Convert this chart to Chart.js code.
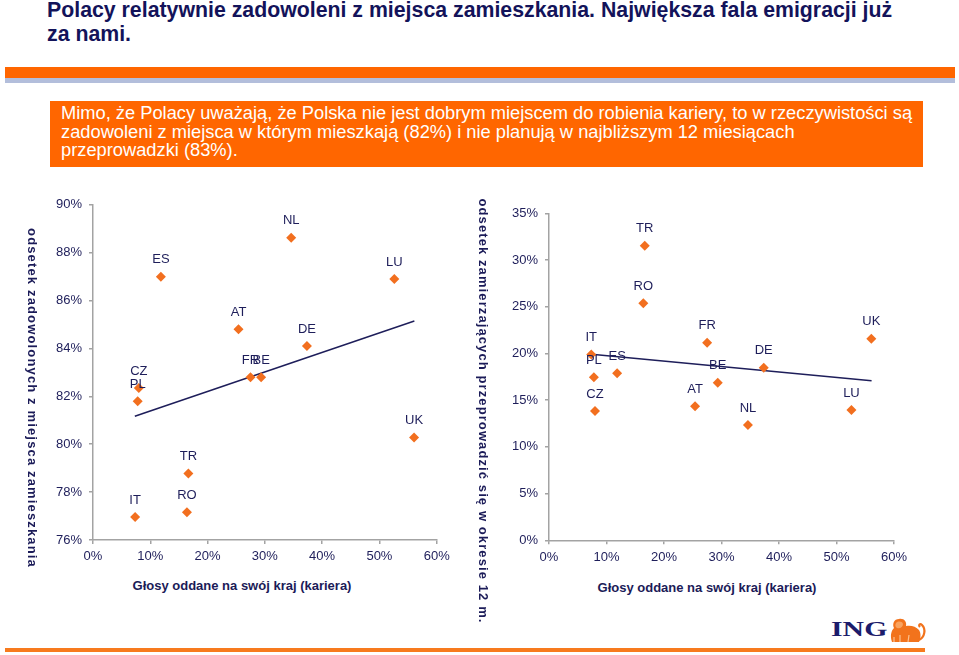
<!DOCTYPE html>
<html lang="pl">
<head>
<meta charset="utf-8">
<script src="https://cdn.jsdelivr.net/npm/chart.js@4.4.1/dist/chart.umd.min.js"></script>
<style>
  body { margin: 0; width: 959px; height: 655px; background: #fff; overflow: hidden; position: relative; font-family: "Liberation Sans", Arial, sans-serif; }
  .abs { position: absolute; }
  #title { left: 47px; top: -2px; font-weight: bold; font-size: 21.3px; line-height: 24px; color: #13135a; white-space: nowrap; }
  #bar { left: 5px; top: 67px; width: 950px; height: 11px; background: #ff6600; }
  #bar2 { left: 5px; top: 78px; width: 950px; height: 5px; background: #b3bedb; }
  #box { left: 50px; top: 101px; width: 873px; height: 66px; background: #ff6600; color: #fff; font-size: 18.3px; line-height: 18.5px; box-sizing: border-box; padding: 3px 0 0 11px; white-space: nowrap; }
  .xt { font-weight: bold; font-size: 13px; color: #1b1b58; transform: translate(-50%, -50%); white-space: nowrap; }
  .yt { font-weight: bold; font-size: 13px; color: #1b1b58; writing-mode: vertical-rl; transform: translate(-50%, -50%); white-space: nowrap; }
  #line { left: 5px; top: 648px; width: 920px; height: 4px; background: #f77a1e; }
  #ing { left: 831px; top: 617px; font-family: "Liberation Serif", "DejaVu Serif", serif; font-weight: bold; font-size: 21px; line-height: 24px; color: #1c1c6b; transform: scaleX(1.42); transform-origin: left center; }
</style>
</head>
<body>
<div id="title" class="abs">Polacy relatywnie zadowoleni z miejsca zamieszkania. Największa fala emigracji już<br>za nami.</div>
<div id="bar" class="abs"></div>
<div id="bar2" class="abs"></div>
<div id="box" class="abs">Mimo, że Polacy uważają, że Polska nie jest dobrym miejscem do robienia kariery, to w rzeczywistości są<br>zadowoleni z miejsca w którym mieszkają (82%) i nie planują w najbliższym 12 miesiącach<br>przeprowadzki (83%).</div>

<canvas id="plotLeft" class="abs" width="460" height="380" style="left:0;top:190px"></canvas>
<canvas id="plotRight" class="abs" width="489" height="380" style="left:470px;top:190px"></canvas>

<div class="abs yt" style="left:32px;top:398px;letter-spacing:1.15px">odsetek zadowolonych z miejsca zamieszkania</div>
<div class="abs yt" style="left:483px;top:411px;letter-spacing:1.1px">odsetek zamierzających przeprowadzić się w okresie 12 m.</div>
<div class="abs xt" style="left:242px;top:585px">Głosy oddane na swój kraj (kariera)</div>
<div class="abs xt" style="left:707px;top:587px">Głosy oddane na swój kraj (kariera)</div>

<div id="line" class="abs"></div>
<div id="ing" class="abs">ING</div>
<svg class="abs" style="left:888px;top:616px" width="40" height="30" viewBox="0 0 40 30">
  <path d="M4 26 C2 20 3 15 6 12 C4 8 6 3 11 3 C16 2 19 6 18 10 C22 9 28 10 31 14 C33 17 33 22 31 26 Z" fill="#f2731c"/>
  <path d="M8 7 C10 5 14 5 15 8 C15 11 12 13 9 12 C7 11 7 9 8 7 Z" fill="#f9a35f"/>
  <path d="M6 26 L6 21 M12 26 L12 19 M20 26 L21 19" stroke="#fbc08f" stroke-width="1.2"/>
  <path d="M31 24 C37 21 38 13 34 9 C32 7 30 9 32 11" stroke="#f2731c" stroke-width="2.2" fill="none"/>
</svg>

<script>
const countries = ['IT', 'PL', 'CZ', 'ES', 'RO', 'TR', 'AT', 'FR', 'BE', 'NL', 'DE', 'LU', 'UK'];
// share of votes for own country as a place for a career (%)
const careerVotes = [7.35, 7.8, 8.0, 11.85, 16.4, 16.65, 25.4, 27.5, 29.35, 34.6, 37.35, 52.6, 56.05];
// satisfied with place of living (%)
const satisfied = [76.96, 81.8, 82.35, 87.0, 77.16, 78.78, 84.8, 82.8, 82.8, 88.62, 84.1, 86.9, 80.28];
// planning to move within 12 months (%)
const planMove = [19.9, 17.45, 13.84, 17.87, 25.37, 31.53, 14.34, 21.15, 16.87, 12.34, 18.48, 13.95, 21.58];

const trendLeftX = [7.3, 56.1];
const trendLeftY = [81.17, 85.15];
const trendRightX = [7.4, 56.1];
const trendRightY = [19.91, 17.08];

const xTicks = [0, 10, 20, 30, 40, 50, 60];

const navy = '#1e1e5a';
const orange = '#f26f1f';
const axisGrey = '#a3a3a3';

const pointLabels = {
  id: 'pointLabels',
  afterDatasetsDraw(chart) {
    const ctx = chart.ctx;
    const meta = chart.getDatasetMeta(0);
    ctx.save();
    ctx.font = '13px "Liberation Sans", Arial, sans-serif';
    ctx.fillStyle = navy;
    ctx.textAlign = 'center';
    ctx.textBaseline = 'middle';
    meta.data.forEach((pt, i) => {
      ctx.fillText(countries[i], pt.x, pt.y - 17);
    });
    ctx.restore();
  }
};

function pairs(xs, ys) {
  return xs.map((x, i) => ({ x: x, y: ys[i] }));
}

function buildConfig(yValues, trendX, trendY, yMin, yMax, yStep, yWidth, xHeight, padding) {
  return {
    type: 'scatter',
    data: {
      datasets: [{
        data: pairs(careerVotes, yValues),
        pointStyle: 'rectRot',
        pointRadius: 5,
        backgroundColor: orange,
        borderColor: orange,
        borderWidth: 0
      }, {
        data: pairs(trendX, trendY),
        showLine: true,
        pointRadius: 0,
        borderColor: navy,
        borderWidth: 1.5
      }]
    },
    options: {
      responsive: false,
      animation: false,
      layout: { padding: padding },
      scales: {
        x: {
          type: 'linear',
          min: 0,
          max: 60,
          afterBuildTicks: (scale) => { scale.ticks = xTicks.map(v => ({ value: v })); },
          afterFit: (scale) => { scale.height = xHeight; },
          border: { display: true, color: axisGrey, width: 1.5 },
          grid: { display: true, drawOnChartArea: false, drawTicks: true, tickLength: 4, color: axisGrey, lineWidth: 1.5 },
          ticks: {
            padding: 5,
            color: navy,
            font: { size: 13, family: '"Liberation Sans", Arial, sans-serif' },
            callback: (v) => v + '%'
          }
        },
        y: {
          type: 'linear',
          min: yMin,
          max: yMax,
          afterFit: (scale) => { scale.width = yWidth; },
          border: { display: true, color: axisGrey, width: 1.5 },
          grid: { display: true, drawOnChartArea: false, drawTicks: true, tickLength: 4, color: axisGrey, lineWidth: 1.5 },
          ticks: {
            stepSize: yStep,
            padding: 7,
            color: navy,
            font: { size: 13, family: '"Liberation Sans", Arial, sans-serif' },
            callback: (v) => v + '%'
          }
        }
      },
      plugins: {
        legend: { display: false },
        tooltip: { enabled: false }
      }
    },
    plugins: [pointLabels]
  };
}

document.addEventListener('DOMContentLoaded', () => {
  new Chart(document.getElementById('plotLeft').getContext('2d'),
    buildConfig(satisfied, trendLeftX, trendLeftY, 76, 90, 2, 93, 30,
      { top: 14.7, right: 23.3, bottom: 0, left: 0 }));
  new Chart(document.getElementById('plotRight').getContext('2d'),
    buildConfig(planMove, trendRightX, trendRightY, 0, 35, 5, 79, 29.7,
      { top: 23.3, right: 65, bottom: 0, left: 0 }));
});
</script>
</body>
</html>
